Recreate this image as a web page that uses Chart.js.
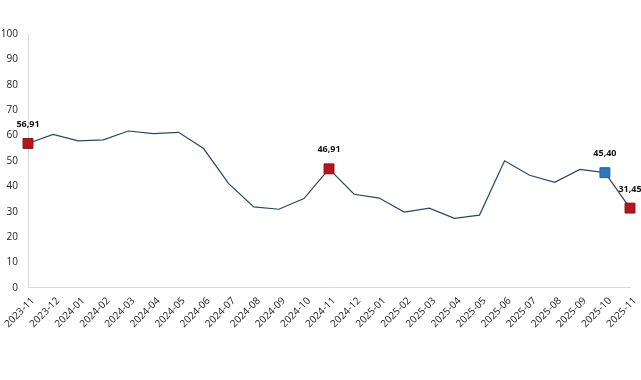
<!DOCTYPE html>
<html>
<head>
<meta charset="utf-8">
<script src="https://cdn.jsdelivr.net/npm/chart.js@4/dist/chart.umd.min.js"></script>
<style>
  html, body { margin: 0; padding: 0; background: #fff; }
  #wrap { width: 641px; height: 380px; }
</style>
</head>
<body>
<div id="wrap"><canvas id="chartLine"></canvas></div>
<script>
const months = [
  '2023-11', '2023-12', '2024-01', '2024-02', '2024-03', '2024-04', '2024-05',
  '2024-06', '2024-07', '2024-08', '2024-09', '2024-10', '2024-11', '2024-12',
  '2025-01', '2025-02', '2025-03', '2025-04', '2025-05', '2025-06', '2025-07',
  '2025-08', '2025-09', '2025-10', '2025-11'
];
const values = [
  56.91, 60.5, 57.9, 58.3, 61.8, 60.8, 61.3,
  54.9, 41.1, 31.9, 31.0, 35.2, 46.91, 36.9,
  35.4, 29.9, 31.4, 27.4, 28.7, 50.1, 44.4,
  41.6, 46.7, 45.40, 31.45
];
// highlighted points: index -> marker colour
const redPoints = [0, 12, 24];
const bluePoints = [23];
const yTicks = [0, 10, 20, 30, 40, 50, 60, 70, 80, 90, 100];

const red = '#b3161b';
const blue = '#2e78bd';

const ptColor = months.map((m, i) =>
  redPoints.includes(i) ? red : (bluePoints.includes(i) ? blue : 'transparent'));
const ptBorder = months.map((m, i) =>
  redPoints.includes(i) ? '#8a1015' : (bluePoints.includes(i) ? '#1f5f9a' : 'transparent'));
const ptRadius = months.map((m, i) =>
  (redPoints.includes(i) || bluePoints.includes(i)) ? 7 : 0);

// draws "56,91" style labels above highlighted points
const pointLabels = {
  id: 'pointLabels',
  afterDatasetsDraw(chart) {
    const ctx = chart.ctx;
    const meta = chart.getDatasetMeta(0);
    ctx.save();
    ctx.font = 'bold 9px "Open Sans", sans-serif';
    ctx.fillStyle = '#111';
    ctx.textAlign = 'center';
    ctx.textBaseline = 'middle';
    redPoints.concat(bluePoints).forEach(i => {
      const p = meta.data[i];
      ctx.fillText(values[i].toFixed(2).replace('.', ','), p.x, p.y - 19);
    });
    ctx.restore();
  }
};

new Chart(document.getElementById('chartLine').getContext('2d'), {
  type: 'line',
  data: {
    labels: months,
    datasets: [{
      data: values,
      borderColor: '#2c4563',
      borderWidth: 1.2,
      tension: 0,
      pointStyle: 'rect',
      pointRadius: ptRadius,
      pointHoverRadius: ptRadius,
      pointBackgroundColor: ptColor,
      pointBorderColor: ptBorder,
      pointBorderWidth: 1
    }]
  },
  options: {
    responsive: true,
    maintainAspectRatio: false,
    animation: false,
    layout: { padding: { top: 34, right: 11, bottom: 43, left: 0 } },
    plugins: {
      legend: { display: false },
      tooltip: { enabled: false }
    },
    scales: {
      x: {
        offset: false,
        afterFit: axis => { axis.paddingLeft = 0; axis.paddingRight = 0; },
        grid: { drawOnChartArea: false, drawTicks: false },
        border: { display: true, color: '#d9d9d9', width: 1 },
        ticks: {
          color: '#222',
          font: { family: '"Open Sans", sans-serif', size: 10 },
          maxRotation: 45,
          minRotation: 45,
          padding: 7,
          labelOffset: 5,
          autoSkip: false
        }
      },
      y: {
        min: 0,
        max: 100,
        afterBuildTicks: axis => { axis.ticks = yTicks.map(v => ({ value: v })); },
        afterFit: axis => { axis.width = 28; },
        grid: { drawOnChartArea: false, drawTicks: false },
        border: { display: true, color: '#d9d9d9', width: 1 },
        ticks: {
          color: '#222',
          font: { family: '"Open Sans", sans-serif', size: 10 },
          padding: 10
        }
      }
    }
  },
  plugins: [pointLabels]
});
</script>
</body>
</html>
